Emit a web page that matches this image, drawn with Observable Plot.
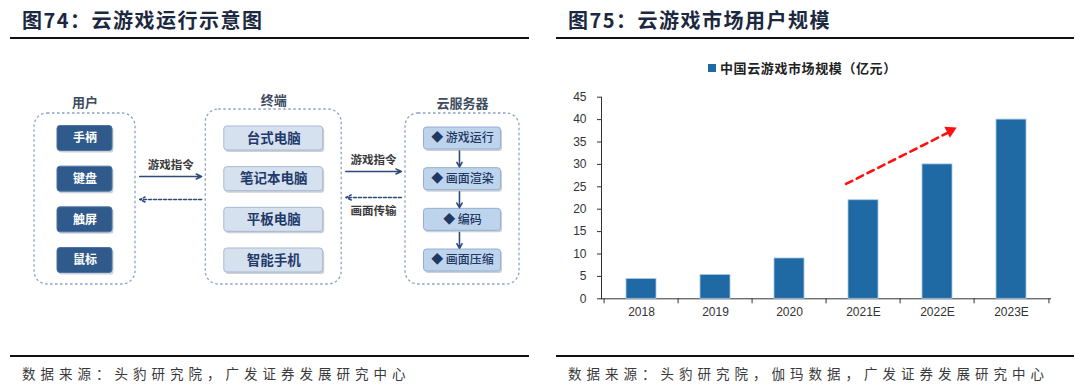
<!DOCTYPE html>
<html><head><meta charset="utf-8">
<script src="https://cdn.jsdelivr.net/npm/d3@7"></script>
<script src="https://cdn.jsdelivr.net/npm/@observablehq/plot@0.6"></script>
<style>
body{margin:0;background:#fff;}
#root{position:relative;width:1080px;height:389px;overflow:hidden;font-family:"Noto Sans CJK SC",sans-serif;background:#fff;}
.title{position:absolute;top:6px;font-size:20px;font-weight:700;color:#1B2840;letter-spacing:1.5px;white-space:nowrap;line-height:28px;}
.rule{position:absolute;height:2px;background:#111;}
.cap{position:absolute;top:363px;font-size:13.5px;color:#3a3a3a;letter-spacing:5px;white-space:nowrap;line-height:20px;}
.panel{position:absolute;top:40px;}
.legend{position:absolute;white-space:nowrap;font-size:13px;font-weight:700;color:#222;letter-spacing:0.6px;line-height:18px;}
.legend i{display:inline-block;width:8px;height:8px;margin-right:4px;vertical-align:1px;}
</style></head>
<body>
<div id="root">
  <div class="title" id="t1" style="left:22px"></div>
  <div class="rule" style="left:10px;width:519px;top:37px"></div>
  <div class="title" id="t2" style="left:568px"></div>
  <div class="rule" style="left:556px;width:518px;top:37px"></div>
  <div class="panel" id="left" style="left:0px"></div>
  <div class="panel" id="right" style="left:557px"></div>
  <div class="rule" style="left:10px;width:519px;top:355px"></div>
  <div class="rule" style="left:556px;width:518px;top:355px"></div>
  <div class="cap" id="c1" style="left:22px"></div>
  <div class="cap" id="c2" style="left:568px"></div>
</div>
<script>
// ---------- texts ----------
const titleLeft = "图74：云游戏运行示意图";
const titleRight = "图75：云游戏市场用户规模";
const captionLeft = "数据来源：头豹研究院，广发证券发展研究中心";
const captionRight = "数据来源：头豹研究院，伽玛数据，广发证券发展研究中心";

// ---------- diagram content ----------
const columns = ["用户", "终端", "云服务器"];
const userDevices = ["手柄", "键盘", "触屏", "鼠标"];
const terminals = ["台式电脑", "笔记本电脑", "平板电脑", "智能手机"];
const serverSteps = ["游戏运行", "画面渲染", "编码", "画面压缩"];
const linkForward = ["游戏指令", "游戏指令"];
const linkBack = ["", "画面传输"];

// ---------- bar chart data ----------
const years = ["2018", "2019", "2020", "2021E", "2022E", "2023E"];
const marketSize = [4.4, 5.3, 9, 22, 30, 40];
const yTicks = [0, 5, 10, 15, 20, 25, 30, 35, 40, 45];
const seriesName = "中国云游戏市场规模（亿元）";
const trendStart = {year: "2021E", value: 27.6};
const trendEnd = {year: "2022E", value: 35.9};

document.getElementById("t1").textContent = titleLeft;
document.getElementById("t2").textContent = titleRight;
document.getElementById("c1").textContent = captionLeft;
document.getElementById("c2").textContent = captionRight;

// ================= LEFT: diagram =================
const items = [userDevices, terminals, serverSteps];
const nodes = items.flatMap((list, col) => list.map((label, row) => ({col, row, label})));
const L = {
  boxHalfW: [0.1457, 0.262, 0.204],
  boxHalfH: [0.307, 0.295, 0.27],
  contHalfW: [0.2675, 0.36, 0.302],
  contTop: [-0.615, -0.713, -0.615],
  contBottom: 3.59,
  headerY: [-0.87, -0.93, -0.86],
  gap: 0.022,
  fwdY: [0.934, 0.811],
  backY: [1.5, 1.45],
  fwdLabelY: [0.664, 0.54],
  backLabelY: [1.795, 1.795],
  stepArrowX: 1.984
};
const boxStyle = [
  {fill: "#2F5A8B", stroke: "#4D74A3", text: "#ffffff", fontSize: 12, fontWeight: 700, fmt: d => d},
  {fill: "#D6E1EF", stroke: "#A7B9D2", text: "#1F3A6B", fontSize: 13.5, fontWeight: 700, fmt: d => d},
  {fill: "#BED4EC", stroke: "#93AFD2", text: "#1F3864", fontSize: 12, fontWeight: 500, fmt: d => "◆ " + d}
];
const lineColor = "#2F4A7A";

const dMarks = [];
// dashed containers
dMarks.push(Plot.rect(columns, {
  x1: (d, i) => i - L.contHalfW[i], x2: (d, i) => i + L.contHalfW[i],
  y1: (d, i) => L.contTop[i], y2: L.contBottom,
  fill: "none", stroke: "#8AA3C4", strokeWidth: 1.3, strokeDasharray: "2.5,2.5", rx: 13
}));
// column headers
dMarks.push(Plot.text(columns, {
  x: (d, i) => i, y: (d, i) => L.headerY[i], text: d => d,
  fill: "#3E4C60", fontSize: 13, fontWeight: 700
}));
columns.forEach((c, ci) => {
  const sub = nodes.filter(n => n.col === ci);
  const s = boxStyle[ci];
  const geo = {
    x1: d => d.col - L.boxHalfW[ci], x2: d => d.col + L.boxHalfW[ci],
    y1: d => d.row - L.boxHalfH[ci], y2: d => d.row + L.boxHalfH[ci], rx: 3
  };
  dMarks.push(Plot.rect(sub, {...geo, fill: "#8E98A6", fillOpacity: 0.45, dx: 1.5, dy: 2}));
  dMarks.push(Plot.rect(sub, {...geo, fill: s.fill, stroke: s.stroke, strokeWidth: 1}));
  dMarks.push(Plot.text(sub, {x: "col", y: "row", text: d => s.fmt(d.label), fill: s.text, fontSize: s.fontSize, fontWeight: s.fontWeight}));
});
// links between columns
const links = linkForward.map((f, i) => ({
  i, fwd: f, back: linkBack[i],
  xa: i + L.contHalfW[i] + L.gap, xb: (i + 1) - L.contHalfW[i + 1] - L.gap
}));
dMarks.push(Plot.arrow(links, {x1: "xa", x2: "xb", y1: d => L.fwdY[d.i], y2: d => L.fwdY[d.i], stroke: lineColor, strokeWidth: 1.5, headLength: 6, headAngle: 50}));
dMarks.push(Plot.arrow(links, {x1: "xb", x2: "xa", y1: d => L.backY[d.i], y2: d => L.backY[d.i], stroke: lineColor, strokeWidth: 1.5, strokeDasharray: "3,2", headLength: 6, headAngle: 50}));
dMarks.push(Plot.text(links, {x: d => (d.xa + d.xb) / 2, y: d => L.fwdLabelY[d.i], text: "fwd", fill: "#3a3a3a", fontSize: 11.5, fontWeight: 600}));
dMarks.push(Plot.text(links.filter(d => d.back), {x: d => (d.xa + d.xb) / 2, y: d => L.backLabelY[d.i], text: "back", fill: "#3a3a3a", fontSize: 11.5, fontWeight: 600}));
// process arrows inside the server column
const steps = serverSteps.slice(0, -1).map((s, r) => ({r}));
dMarks.push(Plot.arrow(steps, {
  x1: L.stepArrowX, x2: L.stepArrowX,
  y1: d => d.r + L.boxHalfH[2] + 0.04, y2: d => d.r + 1 - L.boxHalfH[2] - 0.03,
  stroke: lineColor, strokeWidth: 1.6, headLength: 5, headAngle: 60
}));

const left = Plot.plot({
  width: 540, height: 310, margin: 0,
  style: {fontFamily: "'Noto Sans CJK SC', sans-serif", background: "transparent", overflow: "visible"},
  x: {domain: [0, 2], range: [84.5, 462], axis: null},
  y: {domain: [0, 3], range: [98, 220], axis: null},
  marks: dMarks
});
document.getElementById("left").appendChild(left);

// ================= RIGHT: bar chart =================
const barData = years.map((year, i) => ({year, value: marketSize[i]}));
const W = 523, mL = 44, mR = 30;
const step = (W - mL - mR) / years.length;
const barColor = "#1F6AA5";
const trend = [{a: trendStart, b: trendEnd}];

const right = Plot.plot({
  width: W, height: 310,
  marginLeft: mL, marginRight: mR, marginTop: 56.7, marginBottom: 51.7,
  style: {fontFamily: "'Liberation Sans', Arial, sans-serif", fontSize: "12px", color: "#333", background: "transparent", overflow: "visible"},
  x: {domain: years, paddingInner: 0.6, paddingOuter: 0.3, tickSize: 0, tickPadding: 9, label: null, line: true},
  y: {domain: [0, 45], ticks: yTicks, tickSize: 4, tickPadding: 11, label: null, line: true},
  marks: [
    Plot.barY(barData, {x: "year", y: "value", fill: barColor, stroke: "#A9C8E2", strokeWidth: 0.8}),
    Plot.ruleX(years, {x: d => d, y1: 0, y2: 0, insetBottom: -5, dx: -step / 2, stroke: "#333"}),
    Plot.ruleX(years.slice(-1), {x: d => d, y1: 0, y2: 0, insetBottom: -5, dx: step / 2, stroke: "#333"}),
    Plot.arrow(trend, {
      x1: d => d.a.year, y1: d => d.a.value, x2: d => d.b.year, y2: d => d.b.value,
      stroke: "#FF1010", strokeWidth: 2.6, strokeDasharray: "7,5", headLength: 0,
      insetStart: -19.6, insetEnd: -11
    }),
    Plot.dot(trend, {
      x: d => d.b.year, y: d => d.b.value, dx: 12.8, dy: -7.3,
      symbol: "triangle", r: 4.6, fill: "#FF1010", stroke: "none", rotate: 63.4
    })
  ]
});
document.getElementById("right").appendChild(right);

const lg = document.createElement("div");
lg.className = "legend";
lg.style.left = "151px"; lg.style.top = "19px";
lg.innerHTML = `<i style="background:${barColor}"></i>`;
lg.appendChild(document.createTextNode(seriesName));
document.getElementById("right").appendChild(lg);
</script>
</body></html>
